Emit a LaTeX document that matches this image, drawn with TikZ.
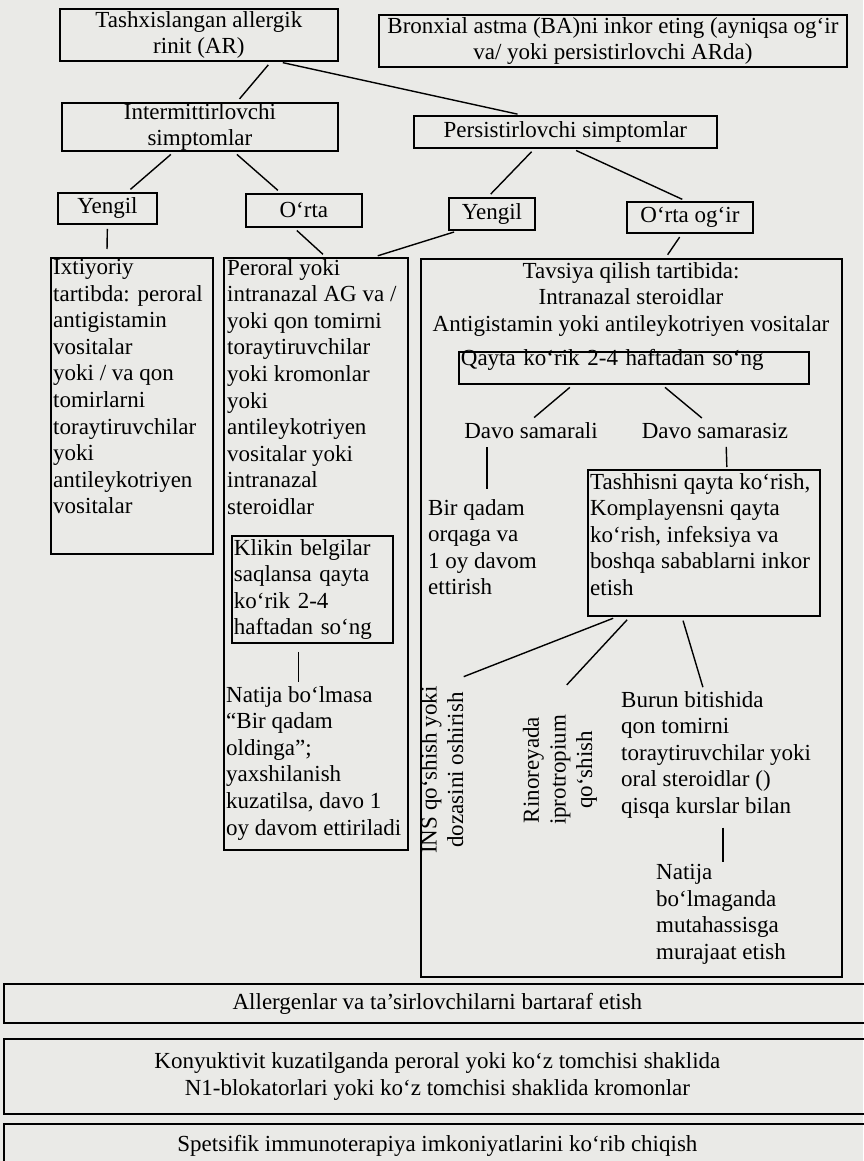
\documentclass[tikz,border=0pt]{standalone}
\usepackage{fontspec}
\setmainfont{Liberation Serif}
\usepackage{tikz}
\usetikzlibrary{calc}
\usepackage{xcolor}
\definecolor{paper}{RGB}{234,234,231}

\begin{document}
\begin{tikzpicture}[x=1pt,y=-1pt]
		\tikzstyle{every node}=[font=\fontsize{23}{26.6}\selectfont, inner sep=0pt]
		\tikzstyle{box}=[draw, line width=1.8pt, anchor=north west, align=center]
		\tikzstyle{txt}=[anchor=north west, align=left]
		\tikzstyle{ln}=[line width=1.4pt, shorten <=4pt, shorten >=4pt]
		\useasboundingbox (0,0) rectangle (863,1161);
		\fill[paper] (0,0) rectangle (863,1161);
		\node[box, minimum width=278pt, minimum height=52pt] (ar) at (59,8) {Tashxislangan allergik\\rinit (AR)};
		\node[box, minimum width=468pt, minimum height=52pt] (ba) at (378,14) {Bronxial astma (BA)ni inkor eting (ayniqsa og‘ir\\va/ yoki persistirlovchi ARda)};
		\node[box, minimum width=276pt, minimum height=48pt] (inter) at (61,102) {Intermittirlovchi\\simptomlar};
		\node[box, minimum width=303pt, minimum height=32pt] (pers) at (413,115) {Persistirlovchi simptomlar};
		\node[box, minimum width=99pt, minimum height=31pt] (yen1) at (57,192) {Yengil};
		\node[box, minimum width=116pt, minimum height=33pt] (orta) at (245,193) {O‘rta};
		\node[box, minimum width=86pt, minimum height=32pt] (yen2) at (448,197) {Yengil};
		\node[box, minimum width=126pt, minimum height=31pt] (ortaog) at (626,201) {O‘rta og‘ir};
		\node[box, minimum width=162pt, minimum height=296pt] (ixt) at (50,257) {};
		\node[txt] (ixttxt) at (53,259) {Ixtiyoriy\\tartibda: peroral\\antigistamin\\vositalar\\yoki / va qon\\tomirlarni\\toraytiruvchilar\\yoki\\antileykotriyen\\vositalar};
		\node[box, minimum width=184pt, minimum height=592pt] (mid) at (223,257) {};
		\node[txt] (midtxt) at (227,259) {Peroral yoki\\intranazal AG va /\\yoki qon tomirni\\toraytiruvchilar\\yoki kromonlar\\yoki\\antileykotriyen\\vositalar yoki\\intranazal\\steroidlar};
		\node[box, align=left, text width=157pt, minimum height=107pt, inner xsep=2pt] (klik) at (231,535) {Klikin belgilar\\saqlansa qayta\\ko‘rik 2-4\\haftadan so‘ng};
		\node[txt] (nat1) at (226,686) {Natija bo‘lmasa\\“Bir qadam\\oldinga”;\\yaxshilanish\\kuzatilsa, davo 1\\oy davom ettiriladi};
		\node[box, minimum width=421pt, minimum height=718pt] (rbox) at (420,258) {};
		\node[anchor=north, align=center] (rtop) at (631,262) {Tavsiya qilish tartibida:\\Intranazal steroidlar\\Antigistamin yoki antileykotriyen vositalar};
		\node[box, align=left, text width=346pt, inner xsep=2pt, text height=14pt, text depth=18pt] (qayta) at (458,351) {Qayta ko‘rik 2-4 haftadan so‘ng};
		\node (davo1) at (531,431) {Davo samarali};
		\node (davo2) at (715,431) {Davo samarasiz};
		\node[txt] (bir) at (428,499) {Bir qadam\\orqaga va\\1 oy davom\\ettirish};
		\node[box, minimum width=232pt, minimum height=146pt] (tash) at (587,469) {};
		\node[txt] (tashtxt) at (590,473) {Tashhisni qayta ko‘rish,\\Komplayensni qayta\\ko‘rish, infeksiya va\\boshqa sabablarni inkor\\etish};
		\node[rotate=90, align=center] (ins) at (442,770) {INS qo‘shish yoki\\dozasini oshirish};
		\node[rotate=90, align=center] (rino) at (560,770) {Rinoreyada\\iprotropium\\qo‘shish};
		\node[txt] (burun) at (621,691) {Burun bitishida\\qon tomirni\\toraytiruvchilar yoki\\oral steroidlar ()\\qisqa kurslar bilan};
		\node[txt] (nat2) at (656,864) {Natija\\bo‘lmaganda\\mutahassisga\\murajaat etish};
		\node[box, minimum width=867pt, minimum height=39pt] (allerg) at (3,983) {Allergenlar va ta’sirlovchilarni bartaraf etish};
		\node[box, minimum width=867pt, minimum height=75pt] (konyu) at (3,1038) {Konyuktivit kuzatilganda peroral yoki ko‘z tomchisi shaklida\\N1-blokatorlari yoki ko‘z tomchisi shaklida kromonlar};
		\node[box, minimum width=867pt, minimum height=44pt] (spets) at (3,1123) {Spetsifik immunoterapiya imkoniyatlarini ko‘rib chiqish};
		\draw[ln] ([xshift=72pt]ar.south) -- ([xshift=37pt]inter.north);
		\draw[ln] ([xshift=80pt]ar.south) -- ([xshift=-44pt]pers.north);
		\draw[ln] ([xshift=-26pt]inter.south) -- ([xshift=20pt]yen1.north);
		\draw[ln] ([xshift=34pt]inter.south) -- ([xshift=-23pt]orta.north);
		\draw[ln] ([xshift=-31pt]pers.south) -- ([xshift=-4pt]yen2.north);
		\draw[ln] ([xshift=7pt]pers.south) -- ([xshift=-4pt]ortaog.north);
		\draw[ln, shorten >=8pt] (yen1.south) -- ([xshift=-25pt]ixt.north);
		\draw[ln] ([xshift=-10pt]orta.south) -- ([xshift=10pt]mid.north);
		\draw[ln] ([xshift=-34pt]yen2.south) -- ([xshift=58pt]mid.north);
		\draw[ln] ([xshift=-8pt]ortaog.south) -- ([xshift=34pt]rbox.north);
		\draw[ln, shorten >=8pt] ([xshift=-61pt]qayta.south) -- ([xshift=-3pt]davo1.north);
		\draw[ln, shorten >=8pt] ([xshift=28pt]qayta.south) -- ([xshift=-7pt]davo2.north);
		\path ([xshift=-44pt]davo1.south) coordinate (d1);
		\draw[ln, shorten <=8pt, shorten >=10pt] (d1) -- (d1 |- bir.north);
		\draw[ln, shorten <=8pt, shorten >=2pt] ([xshift=11pt]davo2.south) -- ([xshift=23pt]tash.north);
		\path ([xshift=-14pt]klik.south) coordinate (k1);
		\draw[ln, shorten <=8pt] (k1) -- (k1 |- nat1.north);
		\draw[ln] ([xshift=-87pt]tash.south) -- ([xshift=18pt,yshift=8pt]ins.east);
		\draw[ln] ([xshift=-74pt]tash.south) -- ([xshift=4pt,yshift=27pt]rino.east);
		\draw[ln] ([xshift=-22pt]tash.south) -- ([xshift=-12pt]burun.north);
		\path ([xshift=7pt]burun.south) coordinate (b1);
		\draw[ln, shorten <=9pt, shorten >=2pt] (b1) -- (b1 |- nat2.north);
\end{tikzpicture}
\end{document}
